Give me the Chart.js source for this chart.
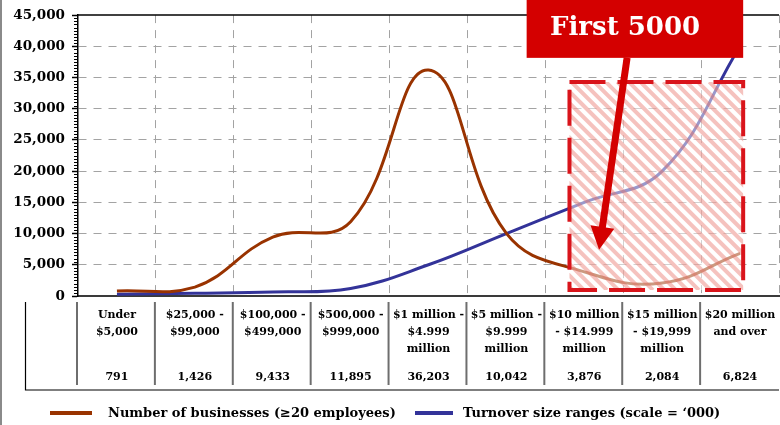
<!DOCTYPE html>
<html><head><meta charset="utf-8">
<script src="https://cdn.jsdelivr.net/npm/chart.js@4.4.1/dist/chart.umd.min.js"></script>
<style>html,body{margin:0;padding:0;background:#fff;overflow:hidden}#wrap{width:780px;height:425px;position:relative}</style>
</head><body><div id="wrap"><canvas id="c" width="780" height="425"></canvas></div>
<script>
// ---------- data ----------
const categories = [
  ["Under", "$5,000"],
  ["$25,000 -", "$99,000"],
  ["$100,000 -", "$499,000"],
  ["$500,000 -", "$999,000"],
  ["$1 million -", "$4.999", "million"],
  ["$5 million -", "$9.999", "million"],
  ["$10 million", "- $14.999", "million"],
  ["$15 million", "- $19,999", "million"],
  ["$20 million", "and over"]
];
const businesses = [791, 1426, 9433, 11895, 36203, 10042, 3876, 2084, 6824];
const turnover = [300, 450, 650, 1200, 5000, 10000, 15000, 20000, 40000];
const yTicks = [0, 5000, 10000, 15000, 20000, 25000, 30000, 35000, 40000, 45000];
const seriesNames = ["Number of businesses (\u226520 employees)", "Turnover size ranges (scale = \u2018000)"];
const calloutText = "First 5000";

// ---------- styling ----------
const FONT = "'DejaVu Serif', serif";
const BROWN = "#993300";
const BLUE = "#333399";
const RED = "#d40000";
const fmt = v => v.toLocaleString("en-US");

// annotation placement in data space (category index, value)
const hatchBox = { x0: 5.81, x1: 8.04, y0: 950, y1: 34300 };
const callout = { x0: 5.26, x1: 8.04, yBottom: 38150, textX: 5.56 };
const arrow = { x0: 6.55, y0: 38150, x1: 6.19, y1: 7400 };

function Xat(chart, v) {
  const xs = chart.scales.x;
  const a = xs.getPixelForValue(0), b = xs.getPixelForValue(1);
  return a + v * (b - a);
}

const overlayPlugin = {
  id: "overlay",
  afterDatasetsDraw(chart) {
    const ctx = chart.ctx, ys = chart.scales.y;
    const x0 = Xat(chart, hatchBox.x0), x1 = Xat(chart, hatchBox.x1);
    const y0 = ys.getPixelForValue(hatchBox.y1), y1 = ys.getPixelForValue(hatchBox.y0);
    ctx.save();
    ctx.fillStyle = "rgba(255,255,255,0.5)";
    ctx.fillRect(x0, y0, x1 - x0, y1 - y0);
    ctx.beginPath(); ctx.rect(x0, y0, x1 - x0, y1 - y0); ctx.clip();
    ctx.strokeStyle = "rgba(232,110,100,0.42)";
    ctx.lineWidth = 4;
    const h = y1 - y0;
    for (let s = x0 - h - 20; s < x1 + 20; s += 11.5) {
      ctx.beginPath(); ctx.moveTo(s, y0); ctx.lineTo(s + h, y1); ctx.stroke();
    }
    ctx.restore();
    ctx.save();
    ctx.setLineDash([36, 12]);
    ctx.lineWidth = 4;
    ctx.strokeStyle = "#d9141b";
    ctx.strokeRect(x0, y0, x1 - x0, y1 - y0);
    ctx.restore();
  }
};

const extrasPlugin = {
  id: "extras",
  afterDraw(chart) {
    const ctx = chart.ctx, ys = chart.scales.y, area = chart.chartArea;
    ctx.save();
    // page left border
    ctx.strokeStyle = "#8a8a8a"; ctx.lineWidth = 2;
    ctx.beginPath(); ctx.moveTo(1, 0); ctx.lineTo(1, 425); ctx.stroke();
    // top plot border
    ctx.strokeStyle = "#000"; ctx.lineWidth = 1.5;
    ctx.beginPath(); ctx.moveTo(area.left, area.top); ctx.lineTo(area.right, area.top); ctx.stroke();
    // minor ticks on y axis
    ctx.lineWidth = 1;
    for (let v = 500; v < 45000; v += 500) {
      if (v % 5000 === 0) continue;
      const y = Math.round(ys.getPixelForValue(v)) + 0.5;
      ctx.beginPath(); ctx.moveTo(area.left - 4, y); ctx.lineTo(area.left, y); ctx.stroke();
    }
    // ---- data table ----
    const tTop = area.bottom + 6, tBot = area.bottom + 89, tLine = area.bottom + 94;
    ctx.strokeStyle = "#6e6e6e"; ctx.lineWidth = 2;
    for (let i = 0; i < categories.length; i++) {
      const bx = Xat(chart, i - 0.5) - 1;
      ctx.beginPath(); ctx.moveTo(bx, tTop); ctx.lineTo(bx, tBot); ctx.stroke();
    }
    ctx.strokeStyle = "#000"; ctx.lineWidth = 1.2;
    ctx.beginPath(); ctx.moveTo(25.5, tTop); ctx.lineTo(25.5, tLine); ctx.lineTo(area.right, tLine); ctx.stroke();
    ctx.fillStyle = "#000";
    ctx.textAlign = "center"; ctx.textBaseline = "middle";
    ctx.font = "bold 11px " + FONT;
    categories.forEach((lines, i) => {
      const cx = Xat(chart, i);
      lines.forEach((t, k) => ctx.fillText(t, cx, area.bottom + 19 + 17 * k));
      ctx.fillText(fmt(businesses[i]), cx, area.bottom + 81);
    });
    // ---- legend ----
    const ly = 413;
    ctx.lineWidth = 4;
    ctx.strokeStyle = BROWN;
    ctx.beginPath(); ctx.moveTo(50, ly); ctx.lineTo(92, ly); ctx.stroke();
    ctx.strokeStyle = BLUE;
    ctx.beginPath(); ctx.moveTo(415, ly); ctx.lineTo(453, ly); ctx.stroke();
    ctx.font = "bold 13px " + FONT;
    ctx.textAlign = "left";
    ctx.fillText(seriesNames[0], 108, ly + 1);
    ctx.fillText(seriesNames[1], 463, ly + 1);
    // ---- callout box ----
    const cx0 = Xat(chart, callout.x0), cx1 = Xat(chart, callout.x1);
    const cyB = ys.getPixelForValue(callout.yBottom);
    ctx.fillStyle = RED;
    ctx.fillRect(cx0, -5, cx1 - cx0, cyB + 5);
    ctx.fillStyle = "#fff";
    ctx.font = "bold 26px " + FONT;
    ctx.textBaseline = "alphabetic";
    ctx.fillText(calloutText, Xat(chart, callout.textX), 35);
    // ---- arrow ----
    const ax0 = Xat(chart, arrow.x0), ay0 = ys.getPixelForValue(arrow.y0);
    const ax1 = Xat(chart, arrow.x1), ay1 = ys.getPixelForValue(arrow.y1);
    const dx = ax1 - ax0, dy = ay1 - ay0, len = Math.hypot(dx, dy);
    const ux = dx / len, uy = dy / len, px = -uy, py = ux;
    const headLen = 23, headHalf = 12;
    const bx = ax1 - ux * headLen, by = ay1 - uy * headLen;
    ctx.strokeStyle = RED; ctx.fillStyle = RED; ctx.lineWidth = 7;
    ctx.beginPath(); ctx.moveTo(ax0, ay0); ctx.lineTo(bx + ux * 2, by + uy * 2); ctx.stroke();
    ctx.beginPath();
    ctx.moveTo(ax1, ay1);
    ctx.lineTo(bx + px * headHalf, by + py * headHalf);
    ctx.lineTo(bx - px * headHalf, by - py * headHalf);
    ctx.closePath(); ctx.fill();
    ctx.restore();
  }
};

new Chart(document.getElementById("c"), {
  type: "line",
  data: {
    labels: categories,
    datasets: [
      { label: seriesNames[0], data: businesses, borderColor: BROWN, borderWidth: 3, pointRadius: 0, tension: 0.42, fill: false },
      { label: seriesNames[1], data: turnover, borderColor: BLUE, borderWidth: 3, pointRadius: 0, tension: 0.4, fill: false }
    ]
  },
  options: {
    responsive: false,
    animation: false,
    devicePixelRatio: 1,
    layout: { padding: { top: 15, right: 1, bottom: 129, left: 0 } },
    plugins: { legend: { display: false }, tooltip: { enabled: false }, title: { display: false } },
    scales: {
      x: {
        type: "category",
        offset: true,
        afterFit: s => { s.height = 0; },
        ticks: { display: false },
        grid: {
          offset: true, drawTicks: false, lineWidth: 1,
          color: c => (c.index === 0 ? "rgba(0,0,0,0)" : "#a3a3a3")
        },
        border: { display: true, color: "#3a3a3a", width: 2, dash: [8, 7] }
      },
      y: {
        min: 0, max: 45000,
        afterFit: s => { s.width = 78; },
        afterBuildTicks: s => { s.ticks = yTicks.map(v => ({ value: v })); },
        ticks: {
          padding: 7, color: "#000",
          font: { family: FONT, weight: "bold", size: 13.5 },
          callback: v => fmt(v)
        },
        grid: {
          lineWidth: 1, tickLength: 6, tickWidth: 1.5, tickColor: "#000", tickBorderDash: [],
          color: c => ((c.tick && (c.tick.value === 0 || c.tick.value === 45000)) ? "rgba(0,0,0,0)" : "#a3a3a3")
        },
        border: { display: true, color: "#000", width: 1.5, dash: [8, 7] }
      }
    }
  },
  plugins: [overlayPlugin, extrasPlugin]
});
</script>
</body></html>
